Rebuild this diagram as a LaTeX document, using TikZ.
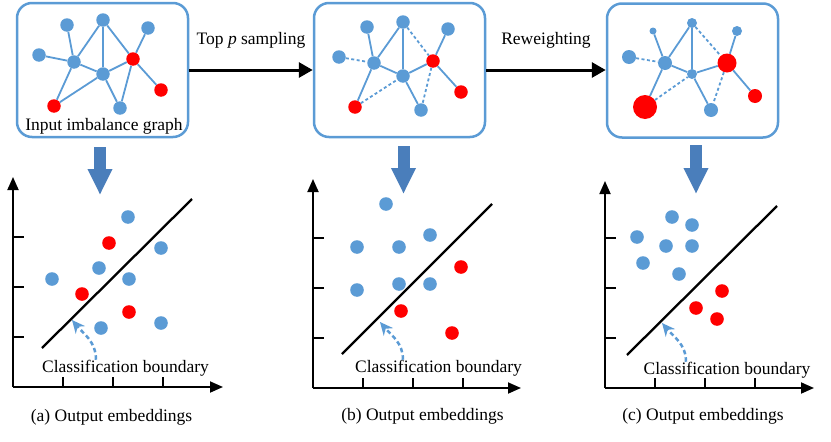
\documentclass[tikz,border=0pt]{standalone}
\usepackage{fontspec}
\setmainfont{Liberation Serif}
\usepackage{xcolor}
\usetikzlibrary{arrows.meta,positioning,calc}
\definecolor{nodeblue}{HTML}{5B9BD5}
\definecolor{nodered}{HTML}{FF0000}
\definecolor{arrblue}{HTML}{4A7EBB}
\tikzset{
  gnode/.style={circle,inner sep=0pt,minimum size=13.5pt},
  gedge/.style={draw=nodeblue,line width=1.8pt},
  dedge/.style={gedge,dash pattern=on 3pt off 2.5pt},
  gbox/.style={draw=nodeblue,line width=2.5pt,rounded corners=15pt,minimum width=171pt,minimum height=134pt,inner sep=0pt},
  flowarr/.style={line width=3pt,-{Triangle[length=14pt,width=15pt]}},
  downarr/.style={draw=arrblue,line width=12pt,-{Triangle[length=26pt,width=23pt]}},
  axis/.style={line width=1.8pt,-{Triangle[length=13pt,width=11pt]}},
  tick/.style={line width=1.6pt},
  bound/.style={line width=2.3pt},
  hint/.style={draw=nodeblue,line width=2.5pt,dash pattern=on 4.5pt off 3pt,-{Stealth[length=13pt,width=12pt]}},
  lbl/.style={inner sep=0pt}
}
\begin{document}
\begin{tikzpicture}[x=1pt,y=-1pt,font=\fontsize{17.5}{21}\selectfont]
  \useasboundingbox (0,0) rectangle (831,442);
  % graph boxes
  \node[gbox] (boxa) at (102.5,70) {};
  \node[gbox] (boxb) at (399.5,70) {};
  \node[gbox] (boxc) at (692.5,70.5) {};
  \node[lbl] (lbla) at (104,126) {Input imbalance graph};
  % input graph
  \foreach \n/\x/\y/\c in {1/67/25/nodeblue,2/103/20/nodeblue,3/148/28/nodeblue,4/39/55/nodeblue,5/74/62/nodeblue,
    6/133/59/nodered,7/103/74/nodeblue,8/161/90/nodered,9/54/106/nodered,10/120/108/nodeblue}
    \node[gnode,fill=\c] (a\n) at (\x,\y) {};
  \foreach \u/\v in {1/5,4/5,5/2,2/7,5/7,5/9,9/7,7/10,7/6,2/6,6/3,6/8,6/10}
    \draw[gedge] (a\u) -- (a\v);
  % sampled graph
  \foreach \n/\x/\y/\c in {1/367/27/nodeblue,2/403/22/nodeblue,3/448/29/nodeblue,4/339/57/nodeblue,5/374/63/nodeblue,
    6/433/61/nodered,7/403/76/nodeblue,8/461/92/nodered,9/355/107/nodered,10/421/110/nodeblue}
    \node[gnode,fill=\c] (b\n) at (\x,\y) {};
  \foreach \u/\v in {1/5,5/2,2/7,5/7,5/9,7/10,7/6,6/3,6/8}
    \draw[gedge] (b\u) -- (b\v);
  \foreach \u/\v in {4/5,9/7,2/6,6/10}
    \draw[dedge] (b\u) -- (b\v);
  % reweighted graph
  \foreach \n/\x/\y/\c/\d in {1/653/31/nodeblue/7,2/692/23/nodeblue/10,3/737/31/nodeblue/10,4/629/57/nodeblue/14,
    5/665/63/nodeblue/14,6/727/63/nodered/19,7/692/74/nodeblue/10,8/755/96/nodered/14,9/645/107/nodered/24,10/711/110/nodeblue/14}
    \node[gnode,fill=\c,minimum size=\d pt] (c\n) at (\x,\y) {};
  \foreach \u/\v in {1/5,5/2,2/7,5/7,5/9,7/10,7/6,6/3,6/8}
    \draw[gedge] (c\u) -- (c\v);
  \foreach \u/\v in {4/5,9/7,2/6,6/10}
    \draw[dedge] (c\u) -- (c\v);
  % pipeline arrows
  \draw[flowarr] (boxa.east) -- node[midway,yshift=30pt] (lblb) {Top \textit{p} sampling} (boxb.west);
  \draw[flowarr] (boxb.east) -- node[midway,yshift=30pt] (lblc) {Reweighting} (boxc.west |- boxb.east);
  \coordinate (da) at (100,147);  \coordinate (dae) at (100,195);
  \coordinate (db) at (403.5,146); \coordinate (dbe) at (403.5,194);
  \coordinate (dc) at (696,145);  \coordinate (dce) at (696,194);
  \draw[downarr] (da) -- (dae);
  \draw[downarr] (db) -- (dbe);
  \draw[downarr] (dc) -- (dce);
  % embedding plots
  \foreach \p/\ox/\oy/\xe/\yt/\bx/\by/\ex/\ey in {a/13/387/223/177/42/348/192/199,b/313/388/521/179/342/354/492/204,c/605/388/814/181/627/355/777/206}{
    \coordinate (o\p) at (\ox,\oy);
    \draw[axis] (o\p) -- (\xe,\oy);
    \draw[axis] (o\p) -- (\ox,\yt);
    \foreach \k in {1,2,3} {
      \draw[tick] (\ox,\oy-50*\k) -- (\ox+11,\oy-50*\k);
      \draw[tick] (\ox+50*\k,\oy) -- (\ox+50*\k,\oy-10);
    }
    \draw[bound] (\bx,\by) -- (\ex,\ey);
  }
  \foreach \x/\y in {128/217,161/248,99/268,52/279,129/279,101/328,161/323,
    386/204,357/247,399/247,430/235,357/290,399/284,430/284,
    672/217,692/225,637/237,666/246,692/246,643/263,679/274}
    \fill[nodeblue] (\x,\y) circle (6.8pt);
  \foreach \x/\y in {109/243,82/294,129/312,461/267,401/311,452/333,722/291,696/308,717/319}
    \fill[nodered] (\x,\y) circle (6.8pt);
  % boundary hints
  \node[lbl] (cba) at (125.5,368) {Classification boundary};
  \node[lbl] (cbb) at (438.5,368) {Classification boundary};
  \node[lbl] (cbc) at (727,370) {Classification boundary};
  \coordinate (ha) at (72,320);  \coordinate (hb) at (380,322);  \coordinate (hc) at (662,323);
  \draw[hint] (cba.north -| 96,0) to[out=90,in=-50] (ha);
  \draw[hint] (cbb.north -| 403,0) to[out=90,in=-50] (hb);
  \draw[hint] (cbc.north -| 686,0) to[out=90,in=-50] (hc);
  \node[lbl] (capa) at (111.5,417) {(a) Output embeddings};
  \node[lbl] (capb) at (422.5,416) {(b) Output embeddings};
  \node[lbl] (capc) at (703,416) {(c) Output embeddings};
\end{tikzpicture}
\end{document}
